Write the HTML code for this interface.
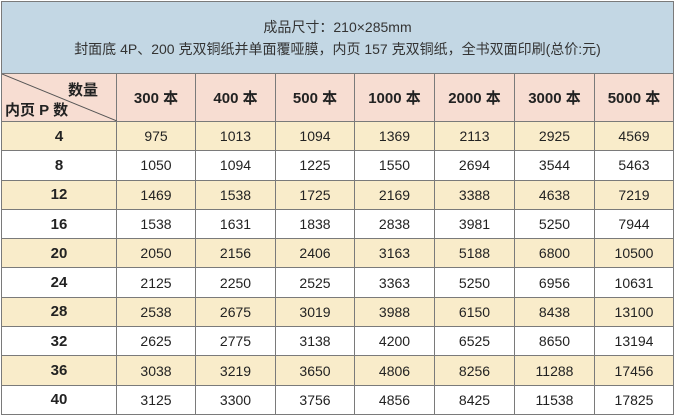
<!DOCTYPE html><html><head><meta charset="utf-8"><style>
body{margin:0;width:675px;height:416px;background:#fff;font-family:"Liberation Sans","Noto Sans CJK SC",sans-serif;overflow:hidden}
table{border-collapse:collapse;position:absolute;left:1px;top:1px;table-layout:fixed}
td{border:1px solid #7a7a7a;text-align:center;font-size:14px;color:#222;padding:0;height:28.3px}
.t{background:#c3d7e4;height:71px;font-size:14px;line-height:22px;color:#333}
.h td{background:#f7ddd2;height:47px;font-weight:bold;font-size:15px;color:#222}
.y td{background:#f9ecca}
td.f{font-weight:bold;font-size:15px}
</style></head><body>
<table>
<colgroup><col style="width:115px"><col style="width:79px"><col style="width:80px"><col style="width:79px"><col style="width:80px"><col style="width:80px"><col style="width:80px"><col style="width:79px"></colgroup>
<tr><td class="t" colspan="8">成品尺寸：210×285mm<br>封面底 4P、200 克双铜纸并单面覆哑膜，内页 157 克双铜纸，全书双面印刷(总价:元)</td></tr>
<tr class="h"><td style="position:relative;padding:0"><svg width="115" height="47" style="position:absolute;left:0;top:0"><line x1="0" y1="0" x2="115" y2="47" stroke="#555"/></svg><div style="position:absolute;right:18px;top:5px">数量</div><div style="position:absolute;left:3px;top:25px">内页 P 数</div></td><td>300 本</td><td>400 本</td><td>500 本</td><td>1000 本</td><td>2000 本</td><td>3000 本</td><td>5000 本</td></tr>
<tr class="y"><td class="f">4</td><td>975</td><td>1013</td><td>1094</td><td>1369</td><td>2113</td><td>2925</td><td>4569</td></tr>
<tr><td class="f">8</td><td>1050</td><td>1094</td><td>1225</td><td>1550</td><td>2694</td><td>3544</td><td>5463</td></tr>
<tr class="y"><td class="f">12</td><td>1469</td><td>1538</td><td>1725</td><td>2169</td><td>3388</td><td>4638</td><td>7219</td></tr>
<tr><td class="f">16</td><td>1538</td><td>1631</td><td>1838</td><td>2838</td><td>3981</td><td>5250</td><td>7944</td></tr>
<tr class="y"><td class="f">20</td><td>2050</td><td>2156</td><td>2406</td><td>3163</td><td>5188</td><td>6800</td><td>10500</td></tr>
<tr><td class="f">24</td><td>2125</td><td>2250</td><td>2525</td><td>3363</td><td>5250</td><td>6956</td><td>10631</td></tr>
<tr class="y"><td class="f">28</td><td>2538</td><td>2675</td><td>3019</td><td>3988</td><td>6150</td><td>8438</td><td>13100</td></tr>
<tr><td class="f">32</td><td>2625</td><td>2775</td><td>3138</td><td>4200</td><td>6525</td><td>8650</td><td>13194</td></tr>
<tr class="y"><td class="f">36</td><td>3038</td><td>3219</td><td>3650</td><td>4806</td><td>8256</td><td>11288</td><td>17456</td></tr>
<tr><td class="f">40</td><td>3125</td><td>3300</td><td>3756</td><td>4856</td><td>8425</td><td>11538</td><td>17825</td></tr>
</table></body></html>
